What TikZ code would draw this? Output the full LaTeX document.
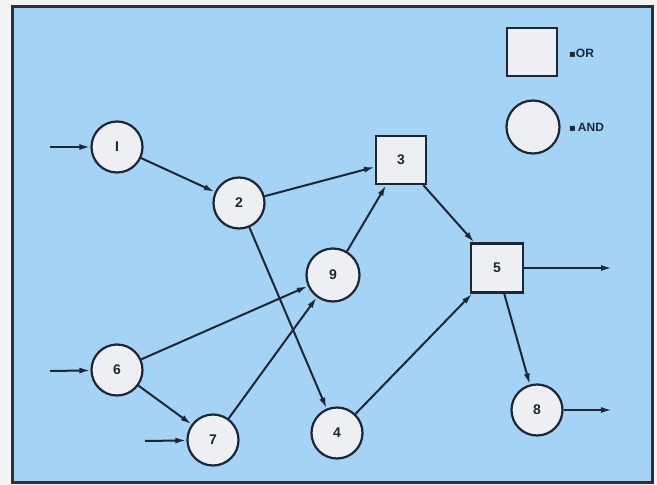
\documentclass[tikz,border=0pt]{standalone}
\usepackage{fontspec}
\setmainfont{Liberation Sans}
\newfontfamily\symfont{DejaVu Sans}
\usetikzlibrary{arrows.meta}
\definecolor{bgblue}{RGB}{164,211,245}
\definecolor{nodefill}{RGB}{238,239,242}
\definecolor{ink}{RGB}{28,38,52}
\definecolor{frameink}{RGB}{42,47,56}
\definecolor{paper}{RGB}{243,243,243}
\begin{document}
\begin{tikzpicture}[x=1pt,y=-1pt,
  andnode/.style={circle,draw=ink,fill=nodefill,line width=2.2pt,minimum size=51pt,inner sep=0pt,font=\bfseries\fontsize{14}{14}\selectfont,text=ink},
  ornode/.style={rectangle,draw=ink,fill=nodefill,line width=2.2pt,minimum width=50pt,minimum height=48pt,inner sep=0pt,font=\bfseries\fontsize{14}{14}\selectfont,text=ink},
  conn/.style={draw=ink,line width=2pt,-{Latex[length=11pt,width=6pt]}},
  legendtext/.style={anchor=west,font=\bfseries\fontsize{12}{12}\selectfont,text=ink,inner sep=0pt}]
\useasboundingbox (0,0) rectangle (657,485);
\fill[paper] (0,0) rectangle (657,485);
\draw[frameink,fill=bgblue,line width=3pt] (12,6) rectangle (652,482);

% legend
\node[ornode] (lor) at (532,52) {};
\node[legendtext] (lortext) at (569,53) {{\symfont\fontsize{10}{10}\selectfont ▪}OR};
\node[andnode,minimum size=53pt] (land) at (533,127) {};
\node[legendtext] (landtext) at (569,127) {{\symfont\fontsize{10}{10}\selectfont ▪}\,AND};

% nodes
\node[andnode] (n1) at (117,147) {I};
\node[andnode] (n2) at (239,203) {2};
\node[ornode] (n3) at (401,160) {3};
\node[andnode,minimum size=53pt] (n9) at (333,275) {9};
\node[ornode,minimum width=52pt,minimum height=49pt] (n5) at (497,268) {5};
\node[andnode] (n6) at (117,370) {6};
\node[andnode] (n7) at (213,440) {7};
\node[andnode] (n4) at (337,433) {4};
\node[andnode] (n8) at (537,410) {8};

% free ends
\coordinate (in1) at (50,147);
\coordinate (in6) at (50,371);
\coordinate (in7) at (145,441);
\coordinate (out5) at (612,268);
\coordinate (out8) at (612,410);

% connectors
\draw[conn] (in1) -- (n1);
\draw[conn] (in6) -- (n6);
\draw[conn] (in7) -- (n7);
\draw[conn] (n1) -- (n2);
\draw[conn] (n2) -- (n3);
\draw[conn] (n2) -- (n4);
\draw[conn] (n6) -- (n9);
\draw[conn] (n6) -- (n7);
\draw[conn] (n7) -- (n9);
\draw[conn] (n9) -- (n3);
\draw[conn] (n3) -- (n5);
\draw[conn] (n4) -- (n5);
\draw[conn] (n5) -- (n8);
\draw[conn] (n5.east) -- (out5);
\draw[conn] (n8) -- (out8);
\end{tikzpicture}
\end{document}
